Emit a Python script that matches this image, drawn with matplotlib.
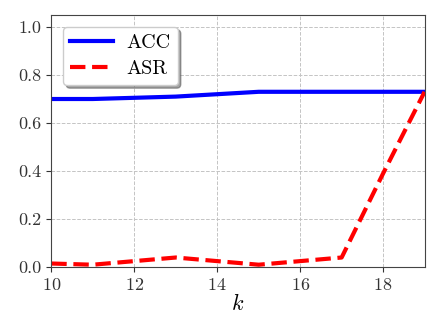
import matplotlib
matplotlib.use("Agg")
import matplotlib.pyplot as plt

plt.rcParams['font.family'] = 'serif'
plt.rcParams['font.serif'] = ['cmr10', 'DejaVu Serif']
plt.rcParams['mathtext.fontset'] = 'cm'
plt.rcParams['axes.formatter.use_mathtext'] = True

k_values = [10, 11, 12, 13, 14, 15, 16, 17, 18, 19]
acc = [0.70, 0.70, 0.705, 0.71, 0.72, 0.73, 0.73, 0.73, 0.73, 0.73]
asr = [0.015, 0.01, 0.025, 0.04, 0.025, 0.01, 0.025, 0.04, 0.39, 0.73]

fig, ax = plt.subplots(figsize=(4.46, 3.18), dpi=100)
ax.plot(k_values, acc, label='ACC', color='blue', linestyle='-', linewidth=3)
ax.plot(k_values, asr, label='ASR', color='red', linestyle='--', linewidth=3)

ax.set_xlim(10, 19)
ax.set_ylim(0, 1.05)
ax.set_xticks([10, 12, 14, 16, 18])
ax.set_yticks([0.0, 0.2, 0.4, 0.6, 0.8, 1.0])
ax.set_yticklabels(['0.0', '0.2', '0.4', '0.6', '0.8', '1.0'])
ax.tick_params(labelsize=13, colors='#333333')
ax.set_xlabel('$k$', fontsize=16, labelpad=0)
ax.grid(True, linestyle='--', color='#c4c4c4', linewidth=0.7)
for s in ax.spines.values():
    s.set_color('#444444')

ax.legend(loc='upper left', fontsize=14.5, shadow=True, fancybox=True,
          handlelength=2.1, handletextpad=0.7, borderpad=0.35,
          labelspacing=0.4, borderaxespad=0.6)

fig.subplots_adjust(left=0.115, right=0.952, top=0.953, bottom=0.16)
fig.savefig('out.png', dpi=100)
